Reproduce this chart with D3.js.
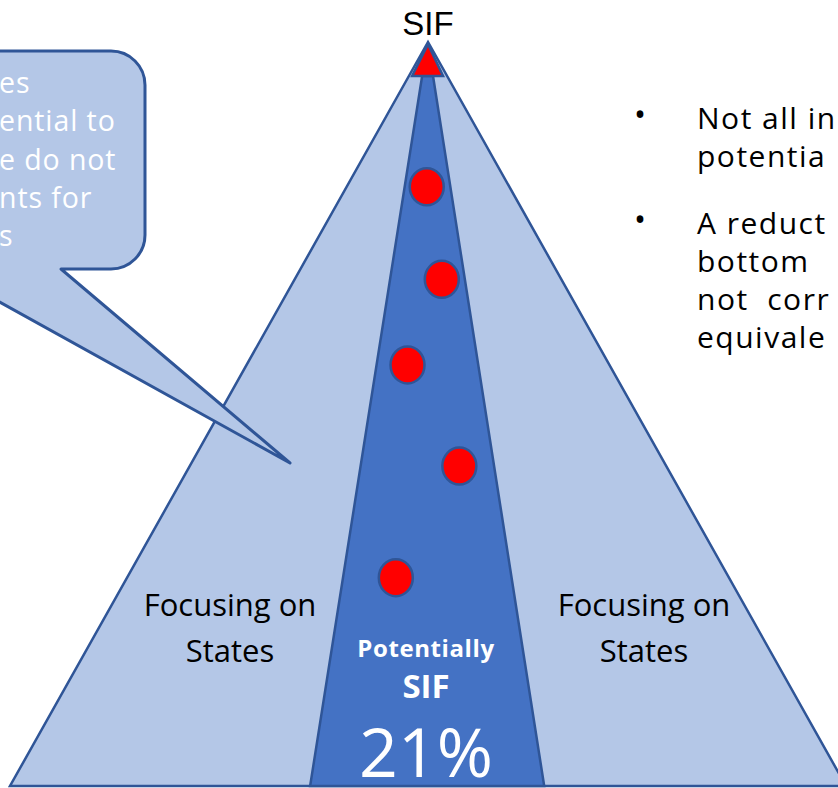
<!DOCTYPE html>
<html>
<head>
<meta charset="utf-8">
<script src="https://cdn.jsdelivr.net/npm/d3@7"></script>
<style>
  html, body { margin: 0; padding: 0; background: #ffffff; overflow: hidden; }
  svg { display: block; }
</style>
</head>
<body>
<svg id="chart" width="838" height="788"></svg>
<script>
// ---- Data (unit coordinates: x = offset from axis, -1..1 at base; y = depth 0 apex .. 1 base)
const outerPyramid = [[0, 0], [-1, 1], [1, 1]];
const innerBand = [[-0.014, 0.0457], [0.012, 0.0457], [0.278, 1], [-0.282, 1]];
const topTriangle = [[0, 0.003], [-0.038, 0.0457], [0.036, 0.0457]];
const dotX = [-0.003, 0.033, -0.049, 0.075, -0.077];
const dotY = [0.1945, 0.319, 0.434, 0.570, 0.720];
const sideLabel = ["Focusing on", "States"];
const centerLabel = ["Potentially", "SIF"];
const shareLabel = "21%";
const apexLabel = "SIF";
const calloutLines = ["es", "ential to", "e do not", "nts for", "s"];
const bulletLines = [["Not all in", "potentia"], ["A reduct", "bottom", "not  corr", "equivale"]];

const LIGHT = "#B4C7E7", DARK = "#4472C4", EDGE = "#2F5597", RED = "#FF0000";

const svg = d3.select("#chart");
const x = d3.scaleLinear().domain([-1, 1]).range([10, 846]);
const y = d3.scaleLinear().domain([0, 1]).range([42, 786]);
const line = d3.line().x(d => x(d[0])).y(d => y(d[1])).curve(d3.curveLinearClosed);

// outer pyramid
svg.append("path").attr("d", line(outerPyramid))
  .attr("fill", LIGHT).attr("stroke", EDGE).attr("stroke-width", 2.5).attr("stroke-linejoin", "miter");
// inner band
svg.append("path").attr("d", line(innerBand))
  .attr("fill", DARK).attr("stroke", EDGE).attr("stroke-width", 2.5);
// red apex triangle
svg.append("path").attr("d", line(topTriangle))
  .attr("fill", RED).attr("stroke", EDGE).attr("stroke-width", 2.5);
// dots
svg.selectAll("ellipse.dot").data(dotX.map((v, i) => [v, dotY[i]])).join("ellipse")
  .attr("class", "dot")
  .attr("cx", d => x(d[0])).attr("cy", d => y(d[1]))
  .attr("rx", 17).attr("ry", 18.5)
  .attr("fill", RED).attr("stroke", EDGE).attr("stroke-width", 2.5);

// callout (rounded rectangle with wedge), on top
const r = 34, L = -300, T = 51, R = 145, B = 269;
const tip = [290, 463];
const callout = d3.path();
callout.moveTo(L + r, T);
callout.lineTo(R - r, T);
callout.arcTo(R, T, R, T + r, r);
callout.lineTo(R, B - r);
callout.arcTo(R, B, R - r, B, r);
callout.lineTo(61, B);
callout.lineTo(tip[0], tip[1]);
callout.lineTo(-60, B);
callout.lineTo(L, B);
callout.closePath();
svg.append("path").attr("d", callout.toString())
  .attr("fill", LIGHT).attr("stroke", EDGE).attr("stroke-width", 3).attr("stroke-linejoin", "round");

svg.append("g").selectAll("text").data(calloutLines).join("text")
  .attr("x", -1).attr("y", (d, i) => 93 + i * 38.3)
  .attr("font-family", "'Open Sans', sans-serif").attr("font-size", 28.5)
  .attr("letter-spacing", 0.9)
  .attr("fill", "#ffffff").text(d => d);

// apex label
svg.append("text").attr("x", x(0)).attr("y", 35).attr("text-anchor", "middle")
  .attr("font-family", "'Liberation Sans', Arial, sans-serif").attr("font-size", 33)
  .attr("fill", "#000").text(apexLabel);

// side labels
[[230, sideLabel], [644, sideLabel]].forEach(([cx, lines]) => {
  svg.append("g").selectAll("text").data(lines).join("text")
    .attr("x", cx).attr("y", (d, i) => 616 + i * 46).attr("text-anchor", "middle")
    .attr("font-family", "'Open Sans', sans-serif").attr("font-size", 31)
    .attr("fill", "#000").text(d => d);
});

// center labels
svg.append("text").attr("x", 426).attr("y", 657).attr("text-anchor", "middle")
  .attr("font-family", "'Open Sans', sans-serif").attr("font-weight", 700).attr("font-size", 24)
  .attr("letter-spacing", 0.6)
  .attr("fill", "#fff").text(centerLabel[0]);
svg.append("text").attr("x", 426).attr("y", 698).attr("text-anchor", "middle")
  .attr("font-family", "'Open Sans', sans-serif").attr("font-weight", 700).attr("font-size", 33)
  .attr("fill", "#fff").text(centerLabel[1]);
svg.append("text").attr("x", 426).attr("y", 777).attr("text-anchor", "middle")
  .attr("font-family", "'Open Sans', sans-serif").attr("font-size", 68)
  .attr("fill", "#fff").text(shareLabel);

// bullet text (right)
let by = [129, 234];
bulletLines.forEach((lines, bi) => {
  svg.append("text").attr("x", 640).attr("y", by[bi] - 3).attr("text-anchor", "middle")
    .attr("font-family", "'Open Sans', sans-serif").attr("font-size", 32).attr("fill", "#000").text("•");
  svg.append("g").selectAll("text").data(lines).join("text")
    .attr("x", 697).attr("y", (d, i) => by[bi] + i * 38)
    .attr("font-family", "'Open Sans', sans-serif").attr("font-size", 30)
    .attr("letter-spacing", 1.5)
    .attr("fill", "#000").attr("xml:space", "preserve").style("white-space", "pre").text(d => d);
});
</script>
</body>
</html>
